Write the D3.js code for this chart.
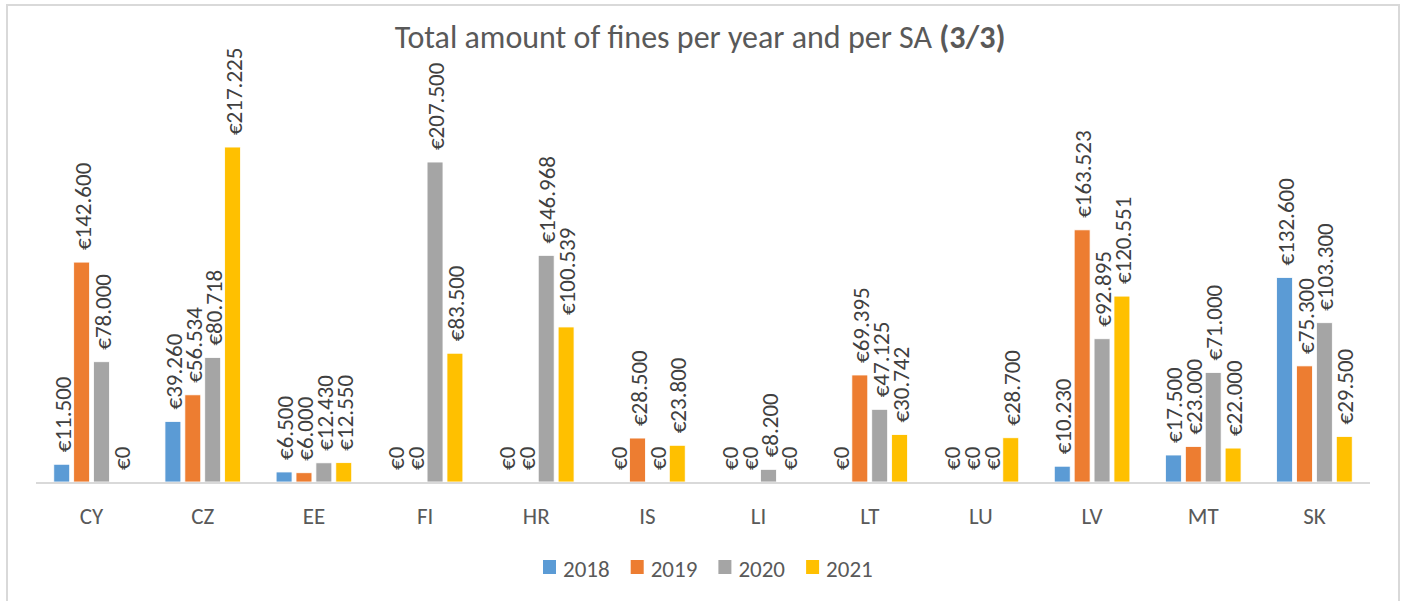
<!DOCTYPE html>
<html>
<head>
<meta charset="utf-8">
<script src="https://cdn.jsdelivr.net/npm/d3@7"></script>
<style>
  html, body { margin: 0; padding: 0; background: #fff; }
  svg { display: block; }
  text { font-family: Calibri, Carlito, Lato, sans-serif; }
</style>
</head>
<body>
<svg id="chart" width="1404" height="601"></svg>
<script>
// Data
const categories = ['CY', 'CZ', 'EE', 'FI', 'HR', 'IS', 'LI', 'LT', 'LU', 'LV', 'MT', 'SK'];
const years = ['2018', '2019', '2020', '2021'];
const fines2018 = [11500, 39260, 6500, 0, 0, 0, 0, 0, 0, 10230, 17500, 132600];
const fines2019 = [142600, 56534, 6000, 0, 0, 28500, 0, 69395, 0, 163523, 23000, 75300];
const fines2020 = [78000, 80718, 12430, 207500, 146968, 0, 8200, 47125, 0, 92895, 71000, 103300];
const fines2021 = [0, 217225, 12550, 83500, 100539, 23800, 0, 30742, 28700, 120551, 22000, 29500];
const colors = ['#5b9bd5', '#ed7d31', '#a5a5a5', '#ffc000'];

const seriesValues = [fines2018, fines2019, fines2020, fines2021];

const width = 1404, height = 601;
const margin = { left: 36, right: 34, baseline: 482 };

const svg = d3.select('#chart');

// Outer frame
svg.append('rect')
    .attr('x', 7).attr('y', 5)
    .attr('width', 1392).attr('height', 700)
    .attr('fill', 'none')
    .attr('stroke', '#d9d9d9')
    .attr('stroke-width', 2);

// Title
const title = svg.append('text')
    .attr('x', 700)
    .attr('y', 48)
    .attr('text-anchor', 'middle')
    .style('font-size', '32px')
    .style('fill', '#595959');
title.append('tspan').text('Total amount of fines per year and per SA ');
title.append('tspan').style('font-weight', 'bold').text('(3/3)');

// Scales
const x0 = d3.scaleBand()
    .domain(categories)
    .range([margin.left, width - margin.right])
    .paddingInner(0.32)
    .paddingOuter(0.16);

const x1 = d3.scaleBand()
    .domain(years)
    .range([0, x0.bandwidth()])
    .paddingInner(0.2);

const y = d3.scaleLinear()
    .domain([0, 250000])
    .range([margin.baseline, margin.baseline - 385.5]);

const fmt = v => '€' + d3.format(',')(v).replace(/,/g, '.');

// Flatten into rows for drawing
const rows = [];
categories.forEach((c, i) => {
    years.forEach((yr, j) => {
        rows.push({ cat: c, year: yr, value: seriesValues[j][i], color: colors[j] });
    });
});

// Bars
svg.append('g').selectAll('rect')
    .data(rows.filter(d => d.value > 0))
    .enter()
    .append('rect')
    .attr('x', d => x0(d.cat) + x1(d.year))
    .attr('y', d => y(d.value))
    .attr('width', x1.bandwidth())
    .attr('height', d => y(0) - y(d.value))
    .attr('fill', d => d.color)
    .attr('stroke', '#fff')
    .attr('stroke-width', 0.8);

// Axis line
svg.append('line')
    .attr('x1', margin.left).attr('x2', width - margin.right)
    .attr('y1', margin.baseline + 1).attr('y2', margin.baseline + 1)
    .attr('stroke', '#d9d9d9')
    .attr('stroke-width', 2);

// Value labels (rotated)
svg.append('g').selectAll('text')
    .data(rows)
    .enter()
    .append('text')
    .attr('transform', d => {
        const cx = x0(d.cat) + x1(d.year) + x1.bandwidth() / 2 + 1;
        const cy = y(d.value) - 12;
        return `translate(${cx},${cy}) rotate(-90)`;
    })
    .attr('dy', '0.35em')
    .style('font-size', '23px')
    .style('fill', '#404040')
    .text(d => fmt(d.value));

// Category labels
svg.append('g').selectAll('text')
    .data(categories)
    .enter()
    .append('text')
    .attr('x', d => x0(d) + x0.bandwidth() / 2)
    .attr('y', 524)
    .attr('text-anchor', 'middle')
    .style('font-size', '23px')
    .style('fill', '#595959')
    .text(d => d);

// Legend
const legend = svg.append('g')
    .attr('transform', 'translate(543, 560)');
const items = legend.selectAll('g')
    .data(years)
    .enter()
    .append('g')
    .attr('transform', (d, i) => `translate(${i * 87.7}, 0)`);
items.append('rect')
    .attr('width', 13).attr('height', 14)
    .attr('fill', (d, i) => colors[i]);
items.append('text')
    .attr('x', 20)
    .attr('y', 17)
    .style('font-size', '23px')
    .style('fill', '#595959')
    .text(d => d);
</script>
</body>
</html>
